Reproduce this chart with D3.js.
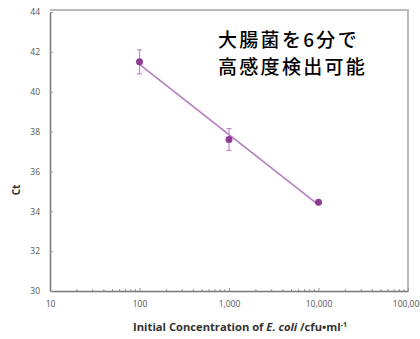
<!DOCTYPE html>
<html>
<head>
<meta charset="utf-8">
<script src="https://cdn.jsdelivr.net/npm/d3@7"></script>
<style>
  body { margin: 0; background: #fff; }
  .tick text { font-family: "Open Sans", sans-serif; font-size: 8.5px; fill: #555; }
</style>
</head>
<body>
<div id="chart"></div>
<script>
// data
var conc = [100, 1000, 10000];
var ct = [41.5, 37.6, 34.45];
var ctErr = [0.6, 0.55, 0];
var xTicks = [10, 100, 1000, 10000, 100000];
var yTicks = [30, 32, 34, 36, 38, 40, 42, 44];
var noteLines = ["大腸菌を6分で", "高感度検出可能"];

var svgWidth = 420;
var svgHeight = 339;
var margin = { top: 12, right: 12, bottom: 48, left: 50 };
var width = 408 - margin.left;
var height = 291 - margin.top;

var svg = d3.select("#chart")
  .append("svg")
  .attr("width", svgWidth)
  .attr("height", svgHeight);

var chartGroup = svg.append("g")
  .attr("transform", `translate(${margin.left}, ${margin.top})`);

var x = d3.scaleLog().domain([10, 100000]).range([0, width]);
var y = d3.scaleLinear().domain([30, 44]).range([height, 0]);

// frame top/right (light gray)
chartGroup.append("path")
  .attr("d", `M0,${y(44) - 2}H${width}V${height}`)
  .attr("fill", "none")
  .attr("stroke", "#bbb")
  .attr("stroke-width", 2);

// minor ticks on x
var minor = [];
[10, 100, 1000, 10000].forEach(d => {
  for (var k = 2; k <= 9; k++) minor.push(d * k);
});
chartGroup.selectAll(".minor")
  .data(minor)
  .enter()
  .append("line")
  .attr("x1", d => x(d))
  .attr("x2", d => x(d))
  .attr("y1", height)
  .attr("y2", height - 2)
  .attr("stroke", "#999");

var bottomAxis = d3.axisBottom(x)
  .tickValues(xTicks)
  .tickFormat(d3.format(","))
  .tickSizeInner(-3)
  .tickSizeOuter(0)
  .tickPadding(12);
var leftAxis = d3.axisLeft(y)
  .tickValues(yTicks)
  .tickFormat(d3.format("d"))
  .tickSizeInner(-3)
  .tickSizeOuter(0)
  .tickPadding(10);

var xAxis = chartGroup.append("g")
  .attr("transform", `translate(0, ${height})`)
  .call(bottomAxis);
var yAxis = chartGroup.append("g").call(leftAxis);

[xAxis, yAxis].forEach(a => {
  a.select(".domain").attr("stroke", "#777").attr("stroke-width", 1.5);
  a.selectAll(".tick line").attr("stroke", "#999");
});
xAxis.selectAll(".tick text").attr("dy", "0.5em");

// axis labels
svg.append("text")
  .attr("transform", "translate(20, 190) rotate(-90)")
  .attr("text-anchor", "middle")
  .attr("font-family", "Open Sans, sans-serif")
  .attr("font-weight", "bold")
  .attr("font-size", 10)
  .attr("fill", "#333")
  .text("Ct");

var xl = svg.append("text")
  .attr("x", 240)
  .attr("y", 331)
  .attr("text-anchor", "middle")
  .attr("font-family", "Open Sans, sans-serif")
  .attr("font-weight", "bold")
  .attr("font-size", 11.2)
  .attr("fill", "#333");
xl.append("tspan").text("Initial Concentration of ");
xl.append("tspan").attr("font-style", "italic").text("E. coli");
xl.append("tspan").text(" /cfu•ml");
xl.append("tspan").attr("font-size", 7).attr("dy", -4).text("-1");

// trend line (least squares in log x)
var lx = conc.map(d => Math.log10(d));
var mx = d3.mean(lx), my = d3.mean(ct);
var slope = d3.sum(lx, (d, i) => (d - mx) * (ct[i] - my)) / d3.sum(lx, d => (d - mx) * (d - mx));
var fit = conc.map(d => ({ c: d, v: my + slope * (Math.log10(d) - mx) }));
var ends = [fit[0], fit[fit.length - 1]];

chartGroup.append("path")
  .datum(ends)
  .attr("d", d3.line().x(d => x(d.c)).y(d => y(d.v)))
  .attr("stroke", "#b57cc0")
  .attr("stroke-width", 1.6)
  .attr("fill", "none");

// error bars
var pts = conc.map((d, i) => ({ c: d, v: ct[i], e: ctErr[i] }));
var eb = chartGroup.selectAll(".err")
  .data(pts.filter(d => d.e > 0))
  .enter()
  .append("g")
  .attr("stroke", "#c08ccc")
  .attr("stroke-width", 1.2);
eb.append("line")
  .attr("x1", d => x(d.c)).attr("x2", d => x(d.c))
  .attr("y1", d => y(d.v + d.e)).attr("y2", d => y(d.v - d.e));
eb.append("line")
  .attr("x1", d => x(d.c) - 2.5).attr("x2", d => x(d.c) + 2.5)
  .attr("y1", d => y(d.v + d.e)).attr("y2", d => y(d.v + d.e));
eb.append("line")
  .attr("x1", d => x(d.c) - 2.5).attr("x2", d => x(d.c) + 2.5)
  .attr("y1", d => y(d.v - d.e)).attr("y2", d => y(d.v - d.e));

chartGroup.selectAll("circle")
  .data(pts)
  .enter()
  .append("circle")
  .attr("cx", d => x(d.c))
  .attr("cy", d => y(d.v))
  .attr("r", 3.5)
  .attr("fill", "#8e3a96");

// note
svg.selectAll(".note")
  .data(noteLines)
  .enter()
  .append("text")
  .attr("x", 218)
  .attr("y", (d, i) => 47 + i * 27)
  .attr("font-family", "Noto Sans CJK JP, sans-serif")
  .attr("font-size", 19)
  .attr("font-weight", 500)
  .attr("letter-spacing", 2.3)
  .attr("fill", "#000")
  .text(d => d);
</script>
</body>
</html>
